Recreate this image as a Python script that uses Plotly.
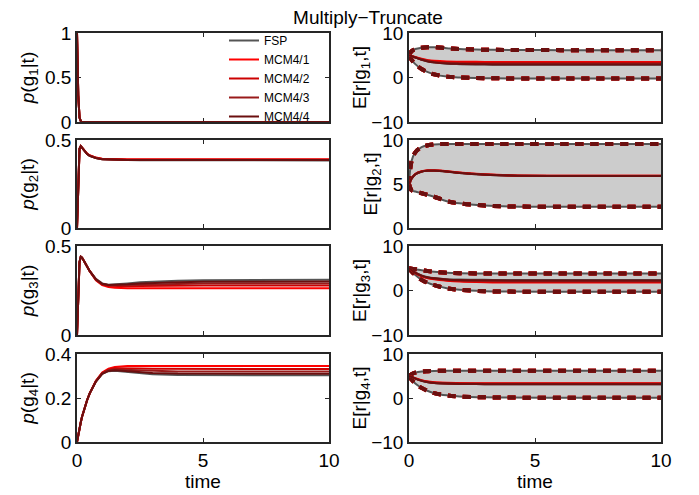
import plotly.graph_objects as go

# time grids
t = [0, 0.05, 0.1, 0.15, 0.2, 0.3, 0.4, 0.5, 0.75, 1, 1.25, 1.5, 2, 2.5, 3, 4, 5, 7, 10]
tr = [0, 0.1, 0.25, 0.5, 0.75, 1, 1.5, 2, 3, 4, 6, 8, 10]

names = ["FSP", "MCM4/1", "MCM4/2", "MCM4/3", "MCM4/4"]
colors = ["#555555", "#ff0000", "#cc0000", "#991a1a", "#6b0f0f"]

# left column: p(g_i|t), order FSP, MCM4/1..4
p1 = [1, 0.3, 0.05, 0.01, 0, 0, 0, 0, 0, 0, 0, 0, 0, 0, 0, 0, 0, 0, 0]

p2_fsp = [0, 0.3, 0.45, 0.465, 0.455, 0.435, 0.42, 0.41, 0.397, 0.39, 0.388, 0.387, 0.386, 0.385, 0.385, 0.384, 0.384, 0.384, 0.384]
p2_m1 = [0, 0.3, 0.45, 0.465, 0.456, 0.437, 0.423, 0.413, 0.4, 0.394, 0.392, 0.391, 0.39, 0.39, 0.39, 0.39, 0.39, 0.39, 0.39]
p2_m2 = [0, 0.3, 0.45, 0.465, 0.456, 0.436, 0.422, 0.412, 0.399, 0.392, 0.39, 0.389, 0.388, 0.388, 0.388, 0.388, 0.388, 0.388, 0.388]
p2_m3 = [0, 0.3, 0.45, 0.465, 0.455, 0.436, 0.421, 0.411, 0.398, 0.391, 0.389, 0.388, 0.387, 0.387, 0.387, 0.387, 0.387, 0.387, 0.387]
p2_m4 = [0, 0.3, 0.45, 0.465, 0.455, 0.435, 0.42, 0.41, 0.397, 0.39, 0.388, 0.387, 0.386, 0.386, 0.386, 0.386, 0.386, 0.386, 0.386]

p3_fsp = [0, 0.25, 0.41, 0.44, 0.435, 0.41, 0.385, 0.36, 0.315, 0.29, 0.283, 0.284, 0.29, 0.296, 0.3, 0.305, 0.308, 0.31, 0.31]
p3_m1 = [0, 0.25, 0.41, 0.44, 0.435, 0.41, 0.385, 0.36, 0.308, 0.281, 0.27, 0.266, 0.263, 0.262, 0.262, 0.262, 0.262, 0.262, 0.262]
p3_m2 = [0, 0.25, 0.41, 0.44, 0.435, 0.41, 0.385, 0.36, 0.31, 0.284, 0.276, 0.274, 0.274, 0.275, 0.276, 0.277, 0.278, 0.278, 0.278]
p3_m3 = [0, 0.25, 0.41, 0.44, 0.435, 0.41, 0.385, 0.36, 0.312, 0.286, 0.279, 0.278, 0.28, 0.283, 0.285, 0.288, 0.289, 0.29, 0.29]
p3_m4 = [0, 0.25, 0.41, 0.44, 0.435, 0.41, 0.385, 0.36, 0.313, 0.288, 0.281, 0.281, 0.285, 0.29, 0.293, 0.297, 0.299, 0.3, 0.3]

p4_fsp = [0, 0.035, 0.065, 0.09, 0.115, 0.155, 0.19, 0.22, 0.275, 0.31, 0.322, 0.324, 0.318, 0.312, 0.308, 0.305, 0.304, 0.303, 0.303]
p4_m1 = [0, 0.035, 0.065, 0.09, 0.115, 0.155, 0.19, 0.22, 0.278, 0.316, 0.333, 0.341, 0.345, 0.345, 0.345, 0.345, 0.345, 0.345, 0.345]
p4_m2 = [0, 0.035, 0.065, 0.09, 0.115, 0.155, 0.19, 0.22, 0.277, 0.314, 0.329, 0.335, 0.336, 0.334, 0.333, 0.332, 0.332, 0.332, 0.332]
p4_m3 = [0, 0.035, 0.065, 0.09, 0.115, 0.155, 0.19, 0.22, 0.276, 0.312, 0.326, 0.33, 0.328, 0.325, 0.323, 0.321, 0.32, 0.32, 0.32]
p4_m4 = [0, 0.035, 0.065, 0.09, 0.115, 0.155, 0.19, 0.22, 0.275, 0.31, 0.323, 0.326, 0.322, 0.317, 0.314, 0.311, 0.31, 0.31, 0.31]

# right column: E[r|g_i,t], mean +/- std band
r1_upper = [5, 5.9, 6.4, 6.7, 6.8, 6.8, 6.6, 6.4, 6.25, 6.2, 6.15, 6.15, 6.15]
r1_lower = [5, 4.0, 3.0, 1.9, 1.2, 0.7, 0.2, 0.0, -0.15, -0.2, -0.2, -0.2, -0.2]
r1_fsp = [5, 4.8, 4.5, 4.0, 3.6, 3.35, 3.1, 3.0, 2.9, 2.85, 2.85, 2.85, 2.85]
r1_m1 = [5, 4.85, 4.6, 4.2, 3.9, 3.75, 3.6, 3.55, 3.5, 3.5, 3.5, 3.5, 3.5]
r1_m2 = [5, 4.8, 4.55, 4.1, 3.8, 3.6, 3.4, 3.35, 3.3, 3.3, 3.3, 3.3, 3.3]
r1_m3 = [5, 4.8, 4.5, 4.05, 3.7, 3.45, 3.25, 3.15, 3.1, 3.1, 3.1, 3.1, 3.1]
r1_m4 = [5, 4.8, 4.5, 4.0, 3.6, 3.4, 3.15, 3.05, 2.95, 2.9, 2.9, 2.9, 2.9]

r2_upper = [5, 7.6, 8.6, 9.2, 9.4, 9.5, 9.55, 9.55, 9.55, 9.55, 9.55, 9.55, 9.55]
r2_lower = [5, 4.3, 4.15, 3.95, 3.75, 3.55, 3.05, 2.8, 2.55, 2.45, 2.42, 2.42, 2.42]
r2_fsp = [5, 5.6, 6.1, 6.4, 6.5, 6.5, 6.4, 6.25, 6.05, 5.95, 5.9, 5.9, 5.9]
r2_m1 = [5, 5.62, 6.13, 6.44, 6.55, 6.55, 6.45, 6.3, 6.1, 6.0, 5.95, 5.95, 5.95]
r2_m2 = [5, 5.61, 6.12, 6.43, 6.53, 6.53, 6.43, 6.28, 6.08, 5.98, 5.93, 5.93, 5.93]
r2_m3 = [5, 5.6, 6.11, 6.42, 6.52, 6.52, 6.42, 6.27, 6.07, 5.97, 5.92, 5.92, 5.92]
r2_m4 = [5, 5.6, 6.1, 6.41, 6.51, 6.51, 6.41, 6.26, 6.06, 5.96, 5.91, 5.91, 5.91]

r3_upper = [5, 4.9, 4.8, 4.55, 4.35, 4.2, 4.0, 3.9, 3.8, 3.8, 3.8, 3.8, 3.8]
r3_lower = [5, 4.3, 3.5, 2.4, 1.7, 1.2, 0.5, 0.15, -0.15, -0.25, -0.3, -0.3, -0.3]
r3_fsp = [5, 4.6, 4.0, 3.4, 3.0, 2.8, 2.55, 2.45, 2.4, 2.35, 2.35, 2.35, 2.35]
r3_m1 = [5, 4.55, 3.9, 3.2, 2.75, 2.5, 2.2, 2.0, 1.85, 1.8, 1.8, 1.8, 1.8]
r3_m2 = [5, 4.55, 3.95, 3.25, 2.8, 2.6, 2.3, 2.15, 2.0, 1.95, 1.95, 1.95, 1.95]
r3_m3 = [5, 4.6, 3.95, 3.3, 2.9, 2.7, 2.4, 2.25, 2.15, 2.1, 2.1, 2.1, 2.1]
r3_m4 = [5, 4.6, 4.0, 3.35, 2.95, 2.75, 2.5, 2.35, 2.3, 2.25, 2.25, 2.25, 2.25]

r4_upper = [5, 5.4, 5.75, 6.0, 6.1, 6.15, 6.2, 6.2, 6.2, 6.2, 6.2, 6.2, 6.2]
r4_lower = [5, 4.2, 3.3, 2.3, 1.6, 1.1, 0.6, 0.35, 0.15, 0.1, 0.05, 0.05, 0.05]
r4_fsp = [5, 4.8, 4.4, 3.9, 3.6, 3.4, 3.25, 3.2, 3.15, 3.15, 3.15, 3.15, 3.15]
r4_m1 = [5, 4.85, 4.5, 4.05, 3.75, 3.6, 3.45, 3.4, 3.35, 3.35, 3.35, 3.35, 3.35]
r4_m2 = [5, 4.83, 4.47, 4.0, 3.7, 3.52, 3.37, 3.32, 3.3, 3.3, 3.3, 3.3, 3.3]
r4_m3 = [5, 4.82, 4.43, 3.95, 3.65, 3.46, 3.3, 3.25, 3.2, 3.2, 3.2, 3.2, 3.2]
r4_m4 = [5, 4.8, 4.4, 3.9, 3.6, 3.42, 3.27, 3.2, 3.15, 3.15, 3.15, 3.15, 3.15]

left_data = [
    [p1, p1, p1, p1, p1],
    [p2_fsp, p2_m1, p2_m2, p2_m3, p2_m4],
    [p3_fsp, p3_m1, p3_m2, p3_m3, p3_m4],
    [p4_fsp, p4_m1, p4_m2, p4_m3, p4_m4],
]
right_data = [
    (r1_upper, r1_lower, [r1_fsp, r1_m1, r1_m2, r1_m3, r1_m4]),
    (r2_upper, r2_lower, [r2_fsp, r2_m1, r2_m2, r2_m3, r2_m4]),
    (r3_upper, r3_lower, [r3_fsp, r3_m1, r3_m2, r3_m3, r3_m4]),
    (r4_upper, r4_lower, [r4_fsp, r4_m1, r4_m2, r4_m3, r4_m4]),
]

left_ranges = [[0, 1], [0, 0.5], [0, 0.5], [0, 0.4]]
left_ticks = [[0, 0.5, 1], [0, 0.5], [0, 0.5], [0, 0.2, 0.4]]
right_ranges = [[-10, 10], [0, 10], [-10, 10], [-10, 10]]
right_ticks = [[-10, 0, 10], [0, 5, 10], [-10, 0, 10], [-10, 0, 10]]

# page body has an 8px margin, so the figure is laid out in shifted pixels
OFF = 8
W, H = 699 - OFF, 495 - OFF
def px(xs, ys):
    return (xs - OFF) / W, 1 - (ys - OFF) / H

xdom_left = [px(77, 0)[0], px(329, 0)[0]]
xdom_right = [px(409, 0)[0], px(661, 0)[0]]
rows_px = [(33, 122), (140, 228), (246, 335), (354, 442)]

FONT = "Liberation Sans, Arial, sans-serif"
AX = "#262626"

fig = go.Figure()
layout = {}

for i in range(4):
    top, bot = rows_px[i]
    ydom = [px(0, bot)[1], px(0, top)[1]]
    li, ri = 2 * i + 1, 2 * i + 2
    for k, xdom, yr, yt in [(li, xdom_left, left_ranges[i], left_ticks[i]),
                            (ri, xdom_right, right_ranges[i], right_ticks[i])]:
        sfx = "" if k == 1 else str(k)
        xa = dict(domain=xdom, anchor="y" + sfx, range=[0, 10], tickvals=[0, 5, 10],
                  showticklabels=(i == 3), ticks="inside", ticklen=4, tickcolor=AX,
                  showline=True, linecolor=AX, linewidth=1.5, mirror="ticks",
                  showgrid=False, zeroline=False, tickfont=dict(size=19),
                  automargin=False, layer="below traces")
        if i == 3:
            xa["title"] = dict(text="time", font=dict(size=19), standoff=0)
        ya = dict(domain=ydom, anchor="x" + sfx, range=yr, tickvals=yt,
                  ticks="inside", ticklen=4, tickcolor=AX,
                  showline=True, linecolor=AX, linewidth=1.5, mirror="ticks",
                  showgrid=False, zeroline=False, tickfont=dict(size=19),
                  automargin=False, layer="below traces")
        if k == li:
            ya["title"] = dict(text="<i>p</i>(g<sub>%d</sub>|t)" % (i + 1),
                               font=dict(size=19), standoff=5)
        else:
            ya["title"] = dict(text="E[r|g<sub>%d</sub>,t]" % (i + 1),
                               font=dict(size=19), standoff=0)
        layout["xaxis" + sfx] = xa
        layout["yaxis" + sfx] = ya

    # left panel: probabilities
    sfx = "" if li == 1 else str(li)
    for j in range(5):
        fig.add_trace(go.Scatter(x=t, y=left_data[i][j], mode="lines", name=names[j],
                                 line=dict(color=colors[j], width=2),
                                 showlegend=(i == 0), legendgroup=names[j],
                                 xaxis="x" + sfx, yaxis="y" + sfx))

    # right panel: band, bounds, means
    sfx = str(ri)
    up, lo, means = right_data[i]
    fig.add_trace(go.Scatter(x=tr, y=up, mode="lines", line=dict(width=0, shape="spline"),
                             showlegend=False, hoverinfo="skip", xaxis="x" + sfx, yaxis="y" + sfx))
    fig.add_trace(go.Scatter(x=tr, y=lo, mode="lines", line=dict(width=0, shape="spline"),
                             fill="tonexty", fillcolor="#cccccc",
                             showlegend=False, hoverinfo="skip", xaxis="x" + sfx, yaxis="y" + sfx))
    for b in (up, lo):
        fig.add_trace(go.Scatter(x=tr, y=b, mode="lines", showlegend=False,
                                 line=dict(color=colors[0], width=2, shape="spline"),
                                 xaxis="x" + sfx, yaxis="y" + sfx))
    for j in range(1, 5):
        for b in (up, lo):
            fig.add_trace(go.Scatter(x=tr, y=b, mode="lines", showlegend=False,
                                     line=dict(color=colors[j], width=4, dash="8px,7px", shape="spline"),
                                     xaxis="x" + sfx, yaxis="y" + sfx))
    for j in range(5):
        fig.add_trace(go.Scatter(x=tr, y=means[j], mode="lines", showlegend=False,
                                 line=dict(color=colors[j], width=2, shape="spline"),
                                 xaxis="x" + sfx, yaxis="y" + sfx))

fig.update_layout(**layout)
fig.update_layout(
    width=W, height=H,
    margin=dict(l=0, r=0, t=0, b=0, autoexpand=False),
    paper_bgcolor="white", plot_bgcolor="white",
    font=dict(family=FONT, color="black", size=19),
    title=dict(text="Multiply−Truncate", x=px(368, 0)[0], xanchor="center",
               y=px(0, 17)[1], yanchor="middle", font=dict(size=19), automargin=False),
    legend=dict(x=px(224, 0)[0], xanchor="left", y=px(0, 26)[1], yanchor="top",
                bgcolor="rgba(0,0,0,0)", font=dict(size=12), itemwidth=30,
                tracegroupgap=0),
)

fig.write_html("out.html")
